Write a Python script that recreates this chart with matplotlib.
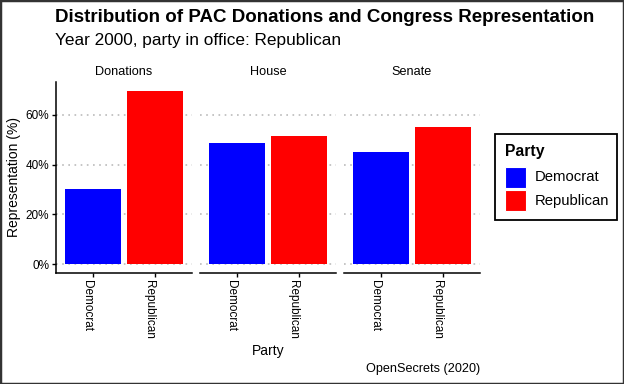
import matplotlib
matplotlib.use("Agg")
import matplotlib.pyplot as plt
from matplotlib.patches import Rectangle
from matplotlib.ticker import PercentFormatter

plt.rcParams['font.family'] = ['Liberation Sans', 'DejaVu Sans']

panels = ["Donations", "House", "Senate"]
parties = ["Democrat", "Republican"]
share = {
    "Donations": [0.303, 0.697],
    "House": [0.486, 0.514],
    "Senate": [0.45, 0.55],
}
colors = ["#0000FF", "#FF0000"]

W, H = 624, 384
fig = plt.figure(figsize=(W / 100, H / 100), dpi=100)

def fx(px):
    return px / W

def fy(py):
    return 1 - py / H

ymax = max(max(v) for v in share.values())
ylo, yhi = -0.05 * ymax, 1.05 * ymax

top_px, bot_px = 82.2, 272.7
lefts = [56, 200, 344]
pw = 136

axes = []
for i, name in enumerate(panels):
    ax = fig.add_axes([fx(lefts[i]), fy(bot_px), pw / W, (bot_px - top_px) / H])
    ax.bar(range(len(parties)), share[name], width=0.9, color=colors)
    ax.set_xlim(-0.6, len(parties) - 0.4)
    ax.set_ylim(ylo, yhi)
    ax.set_yticks([0, 0.2, 0.4, 0.6])
    ax.yaxis.set_major_formatter(PercentFormatter(1.0, decimals=0))
    ax.set_xticks(range(len(parties)))
    ax.set_xticklabels(parties, rotation=270, fontsize=8.5, va='top', ha='right')
    ax.grid(axis='y', color='#bbbbbb', linestyle=(0, (1, 2.7)), linewidth=1.2)
    ax.set_axisbelow(True)
    for s in ['top', 'right']:
        ax.spines[s].set_visible(False)
    ax.spines['bottom'].set_linewidth(1.1)
    ax.spines['left'].set_linewidth(1.1)
    ax.tick_params(axis='both', length=3, width=1, labelsize=8.5, pad=2)
    if i > 0:
        ax.spines['left'].set_visible(False)
        ax.tick_params(axis='y', left=False, labelleft=False)
    ax.set_title(name, fontsize=9.1, pad=5.5)
    axes.append(ax)

axes[0].set_ylabel("Representation (%)", fontsize=10, labelpad=3)

fig.text(fx(268), fy(351), "Party", fontsize=10, ha='center', va='center')
fig.text(fx(480), fy(369), "OpenSecrets (2020)", fontsize=9.1, ha='right', va='center')
fig.text(fx(55), fy(17), "Distribution of PAC Donations and Congress Representation",
         fontsize=13.5, fontweight='bold', ha='left', va='center')
fig.text(fx(55), fy(40.5), "Year 2000, party in office: Republican",
         fontsize=12.4, ha='left', va='center')

# legend drawn by hand, ggplot style
fig.add_artist(Rectangle((fx(495), fy(220)), (617 - 495) / W, (220 - 134) / H,
                         transform=fig.transFigure, fill=False,
                         edgecolor='black', linewidth=1.3))
fig.text(fx(505), fy(152), "Party", fontsize=11.3, fontweight='bold',
         ha='left', va='center')
for k, (lab, c) in enumerate(zip(parties, colors)):
    y0 = 167 + k * 23
    fig.add_artist(Rectangle((fx(505), fy(y0 + 21)), 21 / W, 21 / H,
                             transform=fig.transFigure, facecolor=c,
                             edgecolor='white', linewidth=0.8))
    fig.text(fx(535), fy(y0 + 10.5), lab, fontsize=10.7, ha='left', va='center')

fig.add_artist(Rectangle((0, 0), 1, 1, transform=fig.transFigure, fill=False,
                         edgecolor='#333333', linewidth=2.5))

fig.savefig("out.png", dpi=100)
